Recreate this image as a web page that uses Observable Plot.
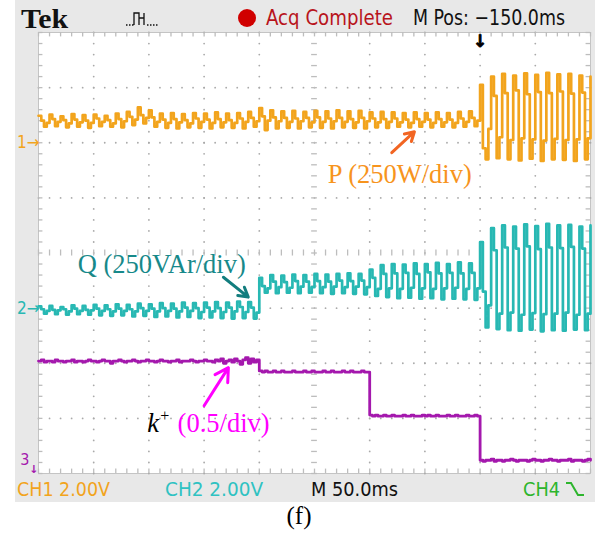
<!DOCTYPE html>
<html><head><meta charset="utf-8">
<script src="https://cdn.jsdelivr.net/npm/d3@7"></script>
<script src="https://cdn.jsdelivr.net/npm/@observablehq/plot@0.6"></script>
<style>
body{margin:0;background:#fff;}
#wrap{position:relative;width:598px;height:533px;overflow:hidden;background:#fff;}
#scope{position:absolute;left:15px;top:0;width:580px;height:502px;background:#e8e8e8;}
#overlay{position:absolute;left:0;top:0;pointer-events:none;}
#caption{position:absolute;left:0;width:598px;top:502px;text-align:center;font:25px "Liberation Serif","Times New Roman",serif;color:#000;}
</style></head>
<body><div id="wrap"><div id="scope"></div><svg id="overlay" width="598" height="533"></svg><div id="caption">(f)</div></div>
<script>
// ---- scope settings ----
const sampleMs = 2.5;      // spacing of the scope samples, ms
const msPerDiv = 50;       // M 50.0ms
const ch1Ground = 2;       // ground markers, divisions from screen centre
const ch2Ground = -1;
const ch3Ground = -4;
const ch3PerDiv = 0.5;     // k+ (0.5/div)

// ---- CH1: P (250W/div), divisions above CH1 ground ----
const pDiv = [
0.49,0.40,0.29,0.36, 0.51,0.43,0.30,0.38, 0.48,0.41,0.28,0.35, 0.52,0.42,0.29,0.37, 0.50,0.40,0.27,0.36,
0.51,0.44,0.30,0.38, 0.49,0.41,0.29,0.35, 0.53,0.43,0.28,0.39, 0.56,0.47,0.32,0.42, 0.64,0.50,0.35,0.45,
0.59,0.46,0.29,0.38, 0.53,0.42,0.27,0.36, 0.54,0.43,0.26,0.37, 0.52,0.41,0.28,0.35, 0.54,0.44,0.27,0.38,
0.53,0.42,0.26,0.36, 0.55,0.43,0.28,0.37, 0.53,0.41,0.27,0.36, 0.54,0.44,0.26,0.38, 0.56,0.45,0.29,0.39,
0.63,0.48,0.23,0.40, 0.59,0.46,0.26,0.39, 0.57,0.45,0.27,0.38, 0.58,0.44,0.26,0.39, 0.56,0.45,0.28,0.37,
0.58,0.46,0.27,0.38, 0.57,0.44,0.26,0.39, 0.59,0.45,0.28,0.38, 0.57,0.43,0.27,0.37, 0.58,0.45,0.26,0.39,
0.55,0.44,0.28,0.37, 0.56,0.43,0.27,0.38, 0.55,0.44,0.29,0.37, 0.54,0.42,0.28,0.36, 0.55,0.43,0.29,0.38,
0.54,0.42,0.28,0.36, 0.55,0.43,0.29,0.37, 0.54,0.42,0.28,0.36, 0.56,0.44,0.29,0.38, 0.57,0.45,0.30,0.40,
1.05,-0.10,-0.30,0.25, 1.20,0.85,-0.28,0.10, 1.25,0.90,-0.30,0.05, 1.22,0.95,-0.32,0.08, 1.26,0.88,-0.29,0.06,
1.23,0.92,-0.33,0.04, 1.27,0.90,-0.30,0.07, 1.24,0.93,-0.31,0.05, 1.25,0.89,-0.33,0.06, 1.22,0.91,-0.30,0.08,
1.20];

// ---- CH2: Q (250VAr/div), divisions above CH2 ground ----
const qDiv = [
0.03,-0.02,-0.10,-0.05, 0.04,-0.03,-0.11,-0.04, 0.02,-0.02,-0.12,-0.06, 0.05,-0.01,-0.11,-0.05, 0.04,-0.03,-0.12,-0.04,
0.06,-0.01,-0.13,-0.05, 0.05,-0.02,-0.14,-0.06, 0.07,-0.01,-0.13,-0.05, 0.06,-0.02,-0.15,-0.06, 0.08,0.00,-0.14,-0.05,
0.07,-0.01,-0.16,-0.06, 0.09,0.00,-0.15,-0.05, 0.08,-0.01,-0.17,-0.06, 0.10,0.01,-0.16,-0.05, 0.09,0.00,-0.18,-0.07,
0.10,0.01,-0.17,-0.06, 0.11,0.00,-0.18,-0.07, 0.10,0.01,-0.19,-0.06, 0.12,0.02,-0.18,-0.07, 0.11,0.01,-0.19,-0.08,
0.55,0.40,0.28,0.36, 0.60,0.48,0.27,0.38, 0.59,0.47,0.28,0.37, 0.61,0.49,0.27,0.39, 0.60,0.48,0.28,0.38,
0.62,0.49,0.27,0.38, 0.61,0.48,0.26,0.39, 0.62,0.50,0.27,0.38, 0.63,0.49,0.26,0.39, 0.62,0.50,0.25,0.38,
0.70,0.55,0.22,0.35, 0.78,0.62,0.20,0.36, 0.80,0.63,0.18,0.35, 0.79,0.64,0.19,0.37, 0.81,0.62,0.17,0.36,
0.80,0.65,0.18,0.35, 0.82,0.63,0.16,0.36, 0.80,0.64,0.17,0.37, 0.83,0.63,0.16,0.35, 0.81,0.64,0.15,0.36,
1.20,0.30,-0.35,0.05, 1.45,1.05,-0.38,-0.10, 1.50,1.10,-0.40,-0.08, 1.48,1.08,-0.41,-0.12, 1.52,1.12,-0.39,-0.09,
1.49,1.07,-0.42,-0.11, 1.53,1.10,-0.40,-0.10, 1.50,1.09,-0.41,-0.08, 1.51,1.11,-0.39,-0.12, 1.48,1.08,-0.40,-0.10,
1.50];

// ---- CH3: k+ (value) ----
const kPlus = [
1.02,1.03,1.01,1.02,1.02,1.01,1.03,1.02,1.02,1.01,1.02,1.02,1.03,1.01,1.02,1.02,1.01,1.02,1.03,1.02,
1.02,1.01,1.02,1.03,1.02,1.02,1.00,1.02,1.02,1.03,1.02,1.01,1.02,1.02,1.03,1.02,1.01,1.02,1.02,1.03,
1.02,1.02,1.01,1.02,1.03,1.02,1.02,1.01,1.02,1.02,1.03,1.01,1.02,1.02,1.02,1.03,1.02,1.01,1.02,1.02,
1.03,1.02,1.02,1.01,1.03,1.02,1.04,1.00,1.02,1.03,1.01,1.04,1.02,0.99,1.03,1.05,1.00,1.04,1.01,1.03,
0.93,0.92,0.93,0.92,0.92,0.93,0.92,0.92,0.93,0.92,0.92,0.92,0.93,0.92,0.92,0.92,0.93,0.92,0.92,0.93,
0.92,0.92,0.92,0.93,0.92,0.92,0.93,0.92,0.92,0.92,0.93,0.92,0.92,0.93,0.92,0.92,0.92,0.93,0.92,0.92,
0.53,0.52,0.53,0.52,0.52,0.53,0.52,0.52,0.53,0.52,0.52,0.52,0.53,0.52,0.52,0.53,0.52,0.52,0.52,0.53,
0.52,0.53,0.52,0.52,0.53,0.52,0.52,0.52,0.53,0.52,0.52,0.53,0.52,0.52,0.52,0.53,0.52,0.52,0.53,0.52,
0.12,0.11,0.12,0.12,0.13,0.11,0.12,0.12,0.11,0.12,0.12,0.13,0.12,0.11,0.12,0.12,0.12,0.11,0.12,0.13,
0.12,0.12,0.11,0.12,0.12,0.13,0.12,0.12,0.11,0.12,0.12,0.12,0.13,0.11,0.12,0.12,0.12,0.11,0.12,0.13,
0.12];

const triggerMs = 400;   // M Pos: -150.0ms from screen centre

// ---- build rows ----
const rows = (arr, off, perDiv) => arr.map((v, i) => ({t: i * sampleMs, y: off + v / perDiv}));
const pRows = rows(pDiv, ch1Ground, 1);
const qRows = rows(qDiv, ch2Ground, 1);
const kRows = rows(kPlus, ch3Ground, ch3PerDiv);

// graticule
const span = 10 * msPerDiv;
const minorX = d3.range(0, span + 0.01, msPerDiv / 5);
const minorY = d3.range(-4, 4.001, 0.2);
const gridDots = [];
for (let i = 1; i < 10; i++) if (i !== 5) for (const y of minorY) gridDots.push({x: i * msPerDiv, y});
for (let j = -3; j <= 3; j++) if (j !== 0) for (const x of minorX) gridDots.push({x, y: j});

const serif = "Liberation Serif, Times New Roman, serif";
const narrow = "Liberation Sans Narrow, DejaVu Sans Condensed, Liberation Sans, sans-serif";
const tickC = "#bdbdbd";

const chart = Plot.plot({
  width: 580, height: 502,
  marginLeft: 23, marginRight: 5, marginTop: 32, marginBottom: 29,
  x: {domain: [0, span], axis: null},
  y: {domain: [-4, 4], axis: null},
  style: {background: "transparent", overflow: "visible"},
  marks: [
    Plot.frame({fill: "white", stroke: "#c4c4c4"}),
    Plot.dot(gridDots, {x: "x", y: "y", r: 0.9, fill: "#a9a9a9", stroke: null}),
    Plot.ruleY(minorY, {y: d => d, x1: span / 2 - 2.6, x2: span / 2 + 2.6, stroke: tickC, strokeWidth: 1.3}),
    Plot.ruleX(minorX, {x: d => d, y1: -0.055, y2: 0.055, stroke: tickC, strokeWidth: 1.3}),
    Plot.ruleX(minorX, {x: d => d, y1: 4, y2: 3.92, stroke: tickC, strokeWidth: 1.3}),
    Plot.ruleX(minorX, {x: d => d, y1: -4, y2: -3.92, stroke: tickC, strokeWidth: 1.3}),
    Plot.ruleY(minorY, {y: d => d, x1: 0, x2: 4, stroke: tickC, strokeWidth: 1.3}),
    Plot.ruleY(minorY, {y: d => d, x1: span - 4, x2: span, stroke: tickC, strokeWidth: 1.3}),
    // traces
    Plot.line(pRows, {x: "t", y: "y", curve: "step-after", stroke: "#f2a41d", strokeWidth: 2.7}),
    Plot.line(qRows, {x: "t", y: "y", curve: "step-after", stroke: "#28b8b3", strokeWidth: 2.7}),
    Plot.line(kRows, {x: "t", y: "y", curve: "step-after", stroke: "#a418ad", strokeWidth: 2.8}),
    // trigger marker
    Plot.text([triggerMs], {x: d => d, y: 4, text: () => "↓", lineAnchor: "top", dy: 2, fontSize: 17, fontWeight: "bold", fill: "#000", stroke: "#000", strokeWidth: 0.8, fontFamily: "DejaVu Sans"}),
    // channel markers
    Plot.text([ch1Ground], {x: 0, y: d => d, text: () => "1→", textAnchor: "end", dx: 1, fontSize: 17, fill: "#f2a41d", fontFamily: narrow}),
    Plot.text([ch2Ground], {x: 0, y: d => d, text: () => "2→", textAnchor: "end", dx: 1, fontSize: 17, fill: "#28b8b3", fontFamily: narrow}),
    Plot.text([-4], {x: 0, y: d => d, text: () => "3", textAnchor: "end", dx: -9, dy: -14, fontSize: 16, fill: "#a418ad", fontFamily: narrow}),
    Plot.text([-4], {x: 0, y: d => d, text: () => "↓", textAnchor: "end", dx: 0, dy: -4, fontSize: 11, fontWeight: "bold", fill: "#a418ad", fontFamily: "DejaVu Sans"}),
    // annotations
    Plot.text(["P (250W/div)"], {x: 262, y: 1.27, text: d => d, textAnchor: "start", lineAnchor: "bottom", fontSize: 26.5, fill: "#f7941d", fontFamily: serif}),
    Plot.arrow([0], {x1: 320, y1: 1.82, x2: 340.5, y2: 2.2, stroke: "#f26522", strokeWidth: 3, headLength: 11, bend: 0}),
    Plot.text(["Q (250VAr/div)"], {x: 35.5, y: -0.37, text: d => d, textAnchor: "start", lineAnchor: "bottom", fontSize: 26.5, fill: "#17898a", fontFamily: serif}),
    Plot.arrow([0], {x1: 167.5, y1: -0.44, x2: 190, y2: -0.8, stroke: "#127d7e", strokeWidth: 3, headLength: 11, bend: 0}),
    Plot.text(["k"], {x: 98.5, y: -3.24, text: d => d, textAnchor: "start", lineAnchor: "bottom", fontSize: 26.5, fontStyle: "italic", fill: "#000", fontFamily: serif}),
    Plot.text(["+"], {x: 98.5, y: -3.24, text: d => d, textAnchor: "start", lineAnchor: "bottom", dx: 13, dy: -11, fontSize: 16, fill: "#000", fontFamily: serif}),
    Plot.text(["(0.5/div)"], {x: 126, y: -3.24, text: d => d, textAnchor: "start", lineAnchor: "bottom", fontSize: 26.5, fill: "#ff00ff", fontFamily: serif}),
    Plot.arrow([0], {x1: 150, y1: -2.77, x2: 172, y2: -2.08, stroke: "#ff00ff", strokeWidth: 3, headLength: 11, bend: 0})
  ]
});
document.getElementById("scope").appendChild(chart);

// ---- header / footer read-outs ----
const ov = d3.select("#overlay");
function label(x, y, s, fill, len, size, family, weight) {
  const t = ov.append("text").attr("x", x).attr("y", y).text(s)
    .attr("fill", fill).attr("font-size", size).attr("font-family", family || narrow)
    .attr("font-weight", weight || "normal");
  if (len) t.attr("textLength", len).attr("lengthAdjust", "spacingAndGlyphs");
  return t;
}
label(21, 28, "Tek", "#111", 47, 27, serif, "bold");
ov.append("path").attr("d", "M126,25h1.5M129,25h1.5M132,25h1.5 M134,25V13h5v12h0M139,13v5h5V13h0M144,13v12 M147,25h1.5M150,25h1.5M153,25h1.5M156,25h1.5")
  .attr("fill", "none").attr("stroke", "#111").attr("stroke-width", 1.3);
ov.append("circle").attr("cx", 247).attr("cy", 18).attr("r", 9).attr("fill", "#d00000");
label(266, 25, "Acq Complete", "#b8141c", 127, 21);
label(413, 25, "M Pos: −150.0ms", "#111", 152, 21);
label(17, 496, "CH1  2.00V", "#f2a41d", 93, 20);
label(165, 496, "CH2  2.00V", "#2fc2c2", 98, 20);
label(311, 496, "M 50.0ms", "#111", 87, 20);
label(523, 496, "CH4", "#2db52d", 37, 20);
ov.append("path").attr("d", "M566,483h5l7,12h6").attr("fill", "none").attr("stroke", "#2db52d").attr("stroke-width", 2);
</script>
</body></html>
